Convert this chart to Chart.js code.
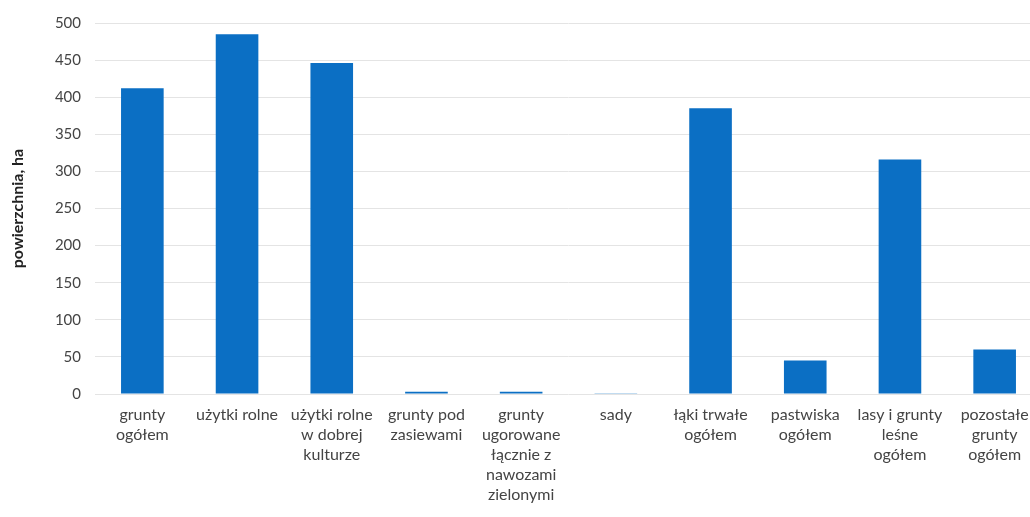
<!DOCTYPE html>
<html lang="pl">
<head>
<meta charset="utf-8">
<script src="https://cdn.jsdelivr.net/npm/chart.js@4"></script>
<style>
  html, body { margin: 0; padding: 0; background: #ffffff; overflow: hidden; }
  #wrap { width: 1042px; height: 517px; }
</style>
</head>
<body>
<div id="wrap"><canvas id="chart" width="1042" height="517"></canvas></div>
<script>
// Land-use categories (multi-line axis labels)
const categories = [
  ['grunty', 'ogółem'],
  ['użytki rolne'],
  ['użytki rolne', 'w dobrej', 'kulturze'],
  ['grunty pod', 'zasiewami'],
  ['grunty', 'ugorowane', 'łącznie z', 'nawozami', 'zielonymi'],
  ['sady'],
  ['łąki trwałe', 'ogółem'],
  ['pastwiska', 'ogółem'],
  ['lasy i grunty', 'leśne', 'ogółem'],
  ['pozostałe', 'grunty', 'ogółem']
];

// Area in hectares
const areaHa = [412, 485, 446, 3, 3, 0.5, 385, 45, 316, 60];

// Value axis
const yMin = 0;
const yMax = 500;
const yStep = 50;
const yTitle = 'powierzchnia, ha';

const textColor = '#444444';
const font = 'Lato, "Open Sans", "Liberation Sans", sans-serif';

new Chart(document.getElementById('chart'), {
  type: 'bar',
  data: {
    labels: categories,
    datasets: [{
      data: areaHa,
      backgroundColor: '#0b6fc4',
      borderWidth: 0,
      barPercentage: 0.45,
      categoryPercentage: 1.0
    }]
  },
  options: {
    responsive: false,
    animation: false,
    layout: { padding: { top: 20, right: 0, bottom: 0, left: 0 } },
    plugins: { legend: { display: false }, tooltip: { enabled: false } },
    scales: {
      x: {
        grid: { display: false, drawTicks: false },
        border: { display: false },
        ticks: {
          color: textColor,
          font: { family: font, size: 16, lineHeight: 1.25 },
          padding: 11,
          maxRotation: 0,
          autoSkip: false
        },
        afterFit(scale) { scale.height = 123; }
      },
      y: {
        min: yMin,
        max: yMax,
        grid: { color: '#e4e4e4', lineWidth: 1, drawTicks: false },
        border: { display: false },
        ticks: {
          stepSize: yStep,
          color: textColor,
          font: { family: font, size: 15 },
          padding: 14
        },
        title: {
          display: true,
          text: yTitle,
          color: '#222222',
          font: { family: font, size: 16, weight: 'bold' },
          padding: { top: 8, bottom: 0 }
        },
        afterFit(scale) { scale.width = 95; }
      }
    }
  }
});
</script>
</body>
</html>
